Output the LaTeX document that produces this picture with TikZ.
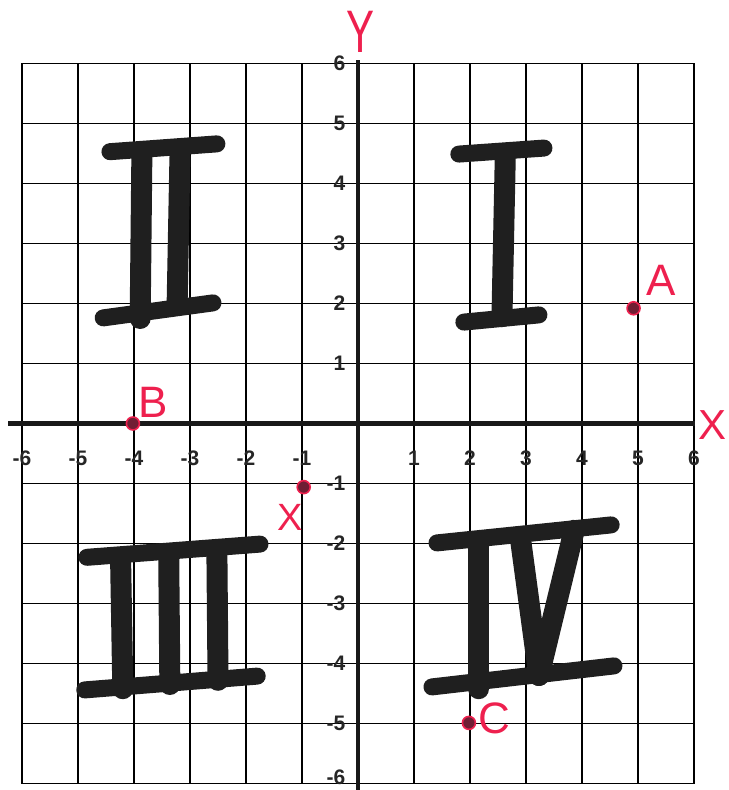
\documentclass[tikz,border=0pt]{standalone}
\usepackage{fontspec}
\setmainfont{Liberation Sans}
\usetikzlibrary{positioning}
\definecolor{penred}{RGB}{238,32,78}
\definecolor{dotred}{RGB}{112,30,52}

\begin{document}
\begin{tikzpicture}[
  x=28pt, y=30pt,
  font=\fontsize{10.5}{12}\selectfont\bfseries,
  gridline/.style={line width=0.9pt, black},
  axis/.style={line width=2.3pt, black!90},
  tick/.style={inner sep=0pt, text=black!85},
  ytick/.style={tick, anchor=east},
  brush/.style={line width=8.5pt, line cap=round, black!88},
  stem/.style={line width=10.5pt, line cap=round, black!88},
  pt/.style={circle, fill=dotred, draw=penred, line width=0.8pt, inner sep=0pt, minimum size=6.5pt},
  hand/.style={text=penred, font=\fontsize{22}{24}\selectfont, inner sep=0pt}
]
\useasboundingbox (-6.393,-6.108) rectangle (6.607,7.058);
% grid and axes
\draw[gridline, step={(1,1)}] (-6,-6) grid (6,6);
\draw[axis] (-6.25,0) -- (6.02,0);
\draw[axis] (0,6.05) -- (0,-6.11);
% tick labels
\node[tick] (xm6) at (-6,-0.58) {-6}; \node[tick] (xm5) at (-5,-0.58) {-5}; \node[tick] (xm4) at (-4,-0.58) {-4};
\node[tick] (xm3) at (-3,-0.58) {-3}; \node[tick] (xm2) at (-2,-0.58) {-2}; \node[tick] (xm1) at (-1,-0.58) {-1};
\node[tick] (xp1) at (1,-0.58) {1}; \node[tick] (xp2) at (2,-0.58) {2}; \node[tick] (xp3) at (3,-0.58) {3};
\node[tick] (xp4) at (4,-0.58) {4}; \node[tick] (xp5) at (5,-0.58) {5}; \node[tick] (xp6) at (6,-0.58) {6};
\node[ytick] (yp6) at (-0.22,6) {6}; \node[ytick] (yp5) at (-0.22,5) {5}; \node[ytick] (yp4) at (-0.22,4) {4};
\node[ytick] (yp3) at (-0.22,3) {3}; \node[ytick] (yp2) at (-0.22,2) {2}; \node[ytick] (yp1) at (-0.22,1) {1};
\node[ytick] (ym1) at (-0.22,-1) {-1}; \node[ytick] (ym2) at (-0.22,-2) {-2}; \node[ytick] (ym3) at (-0.22,-3) {-3};
\node[ytick] (ym4) at (-0.22,-4) {-4}; \node[ytick] (ym5) at (-0.22,-5) {-5}; \node[ytick] (ym6) at (-0.22,-5.9) {-6};
% axis names
\node[hand, font=\fontsize{30}{32}\selectfont, xscale=0.7] (ylab) at (0.04,6.52) {Y};
\node[hand, font=\fontsize{21}{23}\selectfont] (xlab) at (6.33,-0.03) {X};
% numeral I
\draw[brush] (1.80,4.49) -- (3.32,4.59);
\draw[stem]  (2.63,4.48) -- (2.57,1.78);
\draw[brush] (1.89,1.69) -- (3.23,1.81);
% numeral II
\draw[brush] (-4.43,4.53) -- (-2.52,4.66);
\draw[stem]  (-3.86,4.44) -- (-3.89,1.75);
\draw[stem]  (-3.18,4.44) -- (-3.23,2.00);
\draw[brush] (-4.55,1.76) -- (-2.59,2.01);
% numeral III
\draw[brush] (-4.84,-2.23) -- (-1.75,-2.01);
\draw[stem]  (-4.24,-2.25) -- (-4.20,-4.42);
\draw[stem]  (-3.38,-2.22) -- (-3.36,-4.35);
\draw[stem]  (-2.52,-2.15) -- (-2.50,-4.28);
\draw[brush] (-4.88,-4.44) -- (-1.80,-4.21);
% numeral IV
\draw[brush] (1.41,-1.99) -- (4.52,-1.69);
\draw[stem]  (2.16,-2.00) -- (2.16,-4.42);
\draw[stem]  (2.91,-1.99) -- (3.23,-4.20);
\draw[stem]  (3.86,-1.78) -- (3.23,-4.20);
\draw[brush] (1.32,-4.39) -- (4.57,-4.04);
% marked points
\node[pt] (A) at (4.92,1.92) {};
\node[pt] (B) at (-4.02,0) {};
\node[pt] (P) at (-0.97,-1.06) {};
\node[pt] (C) at (1.98,-4.99) {};
\node[hand] (lA) at (5.41,2.39) {A};
\node[hand] (lB) at (-3.66,0.36) {B};
\node[hand, font=\fontsize{19}{21}\selectfont] (lP) at (-1.21,-1.56) {X};
\node[hand] (lC) at (2.43,-4.91) {C};
\end{tikzpicture}
\end{document}
